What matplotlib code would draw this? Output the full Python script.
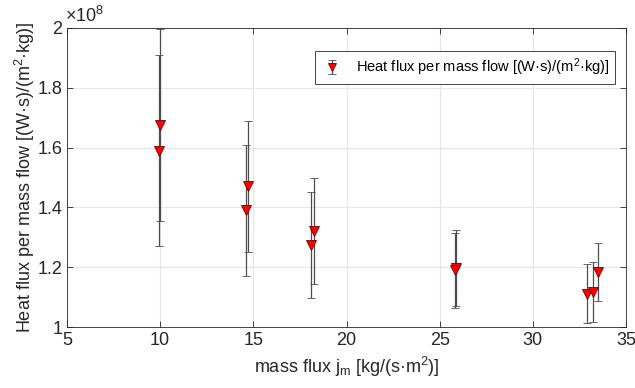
import matplotlib
matplotlib.use("Agg")
import matplotlib.pyplot as plt
from matplotlib.ticker import FuncFormatter

# data (mass flux, heat flux per mass flow, symmetric error)
mass_flux = [9.98, 9.93, 14.73, 14.62, 18.26, 18.08, 25.85, 25.82, 32.93, 33.25, 33.52]
heat_flux = [1.675e8, 1.59e8, 1.47e8, 1.39e8, 1.32e8, 1.275e8, 1.197e8, 1.19e8, 1.112e8, 1.118e8, 1.184e8]
err = [0.32e8, 0.32e8, 0.22e8, 0.22e8, 0.177e8, 0.178e8, 0.126e8, 0.126e8, 0.10e8, 0.10e8, 0.098e8]

x_ticks = [5, 10, 15, 20, 25, 30, 35]
y_ticks = [1.0e8, 1.2e8, 1.4e8, 1.6e8, 1.8e8, 2.0e8]

plt.rcParams['font.family'] = ['Liberation Sans', 'DejaVu Sans']
plt.rcParams['mathtext.fontset'] = 'custom'
plt.rcParams['mathtext.rm'] = 'Liberation Sans'
plt.rcParams['mathtext.it'] = 'Liberation Sans'

fig = plt.figure(figsize=(6.35, 3.88), dpi=100)
ax = fig.add_axes([67/635, 1-327/388, (626-67)/635, (327-28)/388])

ax.errorbar(mass_flux, heat_flux, yerr=err, fmt='v', color='#4d4d4d',
            ecolor='#4d4d4d', elinewidth=0.9, capsize=3, capthick=0.9,
            markerfacecolor='#ff0000', markeredgecolor='#6b0000',
            markeredgewidth=0.6, markersize=7.5,
            label='Heat flux per mass flow [(W·s)/(m$^{2}$·kg)]')

ax.set_xlim(5, 35)
ax.set_ylim(1e8, 2e8)
ax.set_xticks(x_ticks)
ax.set_yticks(y_ticks)
ax.yaxis.set_major_formatter(FuncFormatter(lambda v, p: f'{v/1e8:g}'))
ax.grid(True, color='#e6e6e6', linewidth=0.8)
ax.set_axisbelow(True)
for s in ax.spines.values():
    s.set_color('#262626')
    s.set_linewidth(0.6)
ax.tick_params(direction='in', length=4, width=0.6, colors='#262626',
               labelsize=13, top=True, right=True, labeltop=False, labelright=False)

ax.text(-0.003, 1.008, '×10$^{8}$', transform=ax.transAxes, fontsize=13,
        color='#262626', ha='left', va='bottom')

ax.set_xlabel('mass flux j$_{\\mathrm{m}}$ [kg/(s·m$^{2}$)]', fontsize=13, color='#262626', labelpad=4)
ax.set_ylabel('Heat flux per mass flow [(W·s)/(m$^{2}$·kg)]', fontsize=13, color='#262626', labelpad=0)

leg = ax.legend(loc='upper right', fontsize=10.5, fancybox=False, framealpha=1,
                edgecolor='#262626', borderpad=0.4, handlelength=1.6, markerscale=0.8,
                bbox_to_anchor=(0.993, 0.948))
leg.get_frame().set_linewidth(0.6)

fig.savefig('out.png', dpi=100)
